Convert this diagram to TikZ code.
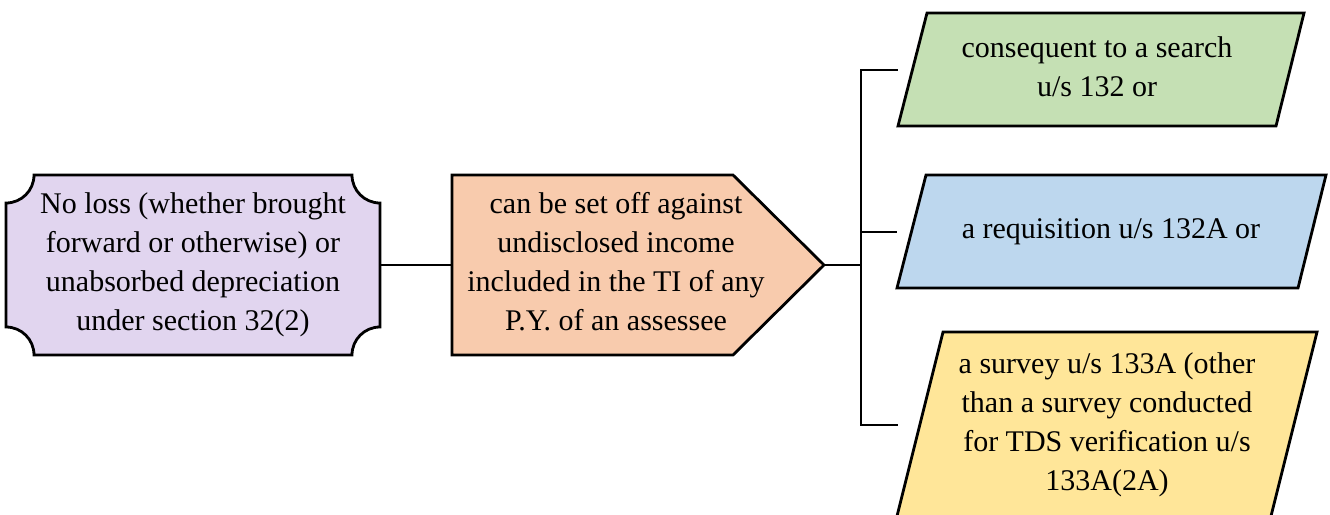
\documentclass[tikz,border=0pt]{standalone}
\usepackage{fontspec}
\setmainfont{Liberation Serif}
\definecolor{cpurple}{HTML}{E1D5EF}
\definecolor{cpeach}{HTML}{F8CBAD}
\definecolor{cgreen}{HTML}{C5E0B4}
\definecolor{cblue}{HTML}{BDD7EE}
\definecolor{cyellow}{HTML}{FFE699}
\tikzset{
  outline/.style={draw=black, line width=2.8pt, line join=miter},
  conn/.style={draw=black, line width=2.8pt},
  txt/.style={align=center, inner sep=0pt, font=\fontsize{30}{39}\selectfont},
}
\begin{document}
\begin{tikzpicture}[x=1pt,y=-1pt]
\useasboundingbox (0,0) rectangle (1330,514);
% left shape
\fill[cpurple] (34,175) -- (352,175) .. controls (352,190.5) and (364.5,203) .. (380,203) -- (380,327) .. controls (364.5,327) and (352,339.5) .. (352,355) -- (34,355) .. controls (34,339.5) and (21.5,327) .. (6,327) -- (6,203) .. controls (21.5,203) and (34,190.5) .. (34,175) -- cycle;
\draw[outline] (34,175) -- (352,175) .. controls (352,190.5) and (364.5,203) .. (380,203) -- (380,327) .. controls (364.5,327) and (352,339.5) .. (352,355) -- (34,355) .. controls (34,339.5) and (21.5,327) .. (6,327) -- (6,203) .. controls (21.5,203) and (34,190.5) .. (34,175) -- cycle;
\node[txt, minimum width=374pt, minimum height=180pt] (loss) at (193,265) {No loss (whether brought\\forward or otherwise) or\\unabsorbed depreciation\\under section 32(2)};
% middle pentagon
\coordinate (midW) at (452,265);
\coordinate (midE) at (824,265);
\draw[outline, fill=cpeach] (452,175) -- (733,175) -- (midE) -- (733,355) -- (452,355) -- cycle;
\node[txt] (mid) at (616,262) {can be set off against\\undisclosed income\\included in the TI of any\\P.Y. of an assessee};
% parallelograms
\draw[outline, fill=cgreen] (927,13) -- (1304,13) -- (1276,126) -- (898,126) -- cycle;
\node[txt] (search) at (1097,67) {consequent to a search\\u/s 132 or};
\coordinate (searchW) at (898,70);
\draw[outline, fill=cblue] (926,175) -- (1326,175) -- (1298,288) -- (897,288) -- cycle;
\node[txt] (req) at (1111,232) {a requisition u/s 132A or};
\coordinate (reqW) at (897,232);
\draw[outline, fill=cyellow] (943,332) -- (1317,332) -- (1270,520) -- (896,520) -- cycle;
\node[txt] (survey) at (1107,425) {a survey u/s 133A (other\\than a survey conducted\\for TDS verification u/s\\133A(2A)};
\coordinate (surveyW) at (898,425);
% bus
\coordinate (bus) at (861,265);
\coordinate (busT) at (861,70);
\coordinate (busB) at (861,232);
\coordinate (busY) at (861,425);
\draw[conn] (loss.east) -- (midW);
\draw[conn] (midE) -- (bus);
\draw[conn, line cap=rect] (busT) -- (busY);
\draw[conn] (busT) -- (searchW);
\draw[conn] (busB) -- (reqW);
\draw[conn] (busY) -- (surveyW);
\end{tikzpicture}
\end{document}
